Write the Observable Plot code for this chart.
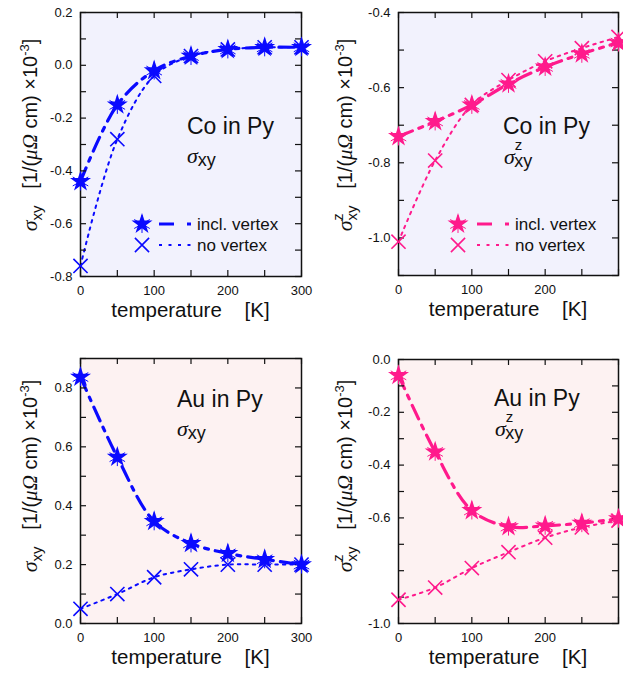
<!DOCTYPE html>
<html><head><meta charset="utf-8">
<script src="https://cdn.jsdelivr.net/npm/d3@7"></script>
<script src="https://cdn.jsdelivr.net/npm/@observablehq/plot@0.6"></script>
<style>
body{margin:0;background:#fff;}
#wrap{position:relative;width:623px;height:673px;overflow:hidden;background:#fff;}
#wrap svg{position:absolute;overflow:visible;}
</style>
</head><body><div id="wrap"></div>
<script>
// ---- data ----
const temps = [0, 50, 100, 150, 200, 250, 300];
const coXyIncl = [-0.44, -0.15, -0.02, 0.035, 0.06, 0.068, 0.068];
const coXyNo   = [-0.76, -0.28, -0.04, 0.035, 0.06, 0.068, 0.068];
const coZIncl  = [-0.73, -0.69, -0.646, -0.59, -0.545, -0.51, -0.48];
const coZNo    = [-1.01, -0.794, -0.646, -0.58, -0.53, -0.495, -0.465];
const auXyIncl = [0.837, 0.565, 0.347, 0.272, 0.238, 0.218, 0.2];
const auXyNo   = [0.05, 0.10, 0.157, 0.184, 0.2, 0.2, 0.2];
const auZIncl  = [-0.06, -0.35, -0.572, -0.633, -0.63, -0.62, -0.603];
const auZNo    = [-0.91, -0.864, -0.79, -0.73, -0.675, -0.636, -0.61];
const xTickLabels = [0, 100, 200, 300];
const xTickLabelsR = [0, 100, 200];
const yLabels1 = [-0.8, -0.6, -0.4, -0.2, 0, 0.2];
const yLabels2 = [-1.0, -0.8, -0.6, -0.4];
const yLabels3 = [0, 0.2, 0.4, 0.6, 0.8];
const yLabels4 = [-1.0, -0.6, -0.4, -0.2, 0];
const legendLabels = ["incl. vertex", "no vertex"];

const SANS = "'Liberation Sans', Arial, Helvetica, sans-serif";
const SERIF = "'Liberation Serif', 'Times New Roman', serif";
const BLUE = "#0a0aff";
const PINK = "#ff1a8c";
const BG_TOP = "#f2f2fd";
const BG_BOT = "#fdf2f2";
const INCL_DASH = "15,7,4,7";
const NO_DASH = "2.5,5";
const R_STAR = 6.6, R_TIMES = 6.5, R_AST = 8.5;

function rich(parent, x, y, segs, opts = {}) {
  const t = parent.append("text").attr("x", x).attr("y", y).attr("fill", "#111")
    .attr("font-family", SANS).attr("text-anchor", opts.anchor || "start");
  if (opts.rotate) t.attr("transform", `rotate(-90 ${x} ${y})`);
  for (const s of segs) {
    const ts = t.append("tspan").text(s.t).attr("font-size", s.size);
    if (s.serif) ts.attr("font-family", SERIF);
    if (s.it) ts.attr("font-style", "italic");
    if (s.dy) ts.attr("dy", s.dy);
    if (s.dx) ts.attr("dx", s.dx);
  }
  return t;
}

function panel(c) {
  const iw = c.width - c.ml - c.mr, ih = c.height - c.mt - c.mb;
  const yt = d3.range(Math.round(c.ydom[0] * 10), Math.round(c.ydom[1] * 10) + 1).map(d => d / 10);
  const xt = d3.range(0, 301, 50);
  const tl = 6;
  const svg = Plot.plot({
    width: c.width, height: c.height,
    marginTop: c.mt, marginRight: c.mr, marginBottom: c.mb, marginLeft: c.ml,
    x: {domain: [0, 300], axis: null},
    y: {domain: c.ydom, axis: null},
    style: {fontFamily: SANS, fontSize: "13px", color: "#111", background: "transparent", overflow: "visible"},
    marks: [
      Plot.frame({fill: c.bg, stroke: null}),
      Plot.line(temps, {x: temps, y: c.no, curve: "catmull-rom", stroke: c.color, strokeWidth: 2, strokeDasharray: NO_DASH}),
      Plot.line(temps, {x: temps, y: c.incl, curve: "catmull-rom", stroke: c.color, strokeWidth: 3.2, strokeDasharray: INCL_DASH}),
      Plot.tickX(xt, {insetTop: ih - tl, stroke: "#111", strokeWidth: 1.2}),
      Plot.tickX(xt, {insetBottom: ih - tl, stroke: "#111", strokeWidth: 1.2}),
      Plot.tickY(yt, {insetRight: iw - tl, stroke: "#111", strokeWidth: 1.2}),
      Plot.tickY(yt, {insetLeft: iw - tl, stroke: "#111", strokeWidth: 1.2}),
      Plot.frame({stroke: "#111", strokeWidth: 1.5}),
      Plot.dot(temps, {x: temps, y: c.no, symbol: "times", r: R_TIMES, stroke: c.color, strokeWidth: 1.6}),
      Plot.dot(temps, {x: temps, y: c.incl, symbol: "star", r: R_STAR, fill: c.color, stroke: null}),
      Plot.dot(temps, {x: temps, y: c.incl, symbol: "asterisk", r: R_AST, stroke: c.color, strokeWidth: 1}),
      Plot.axisX({ticks: c.xlabels, tickSize: 0, tickPadding: 9, fontSize: 13, label: null, fill: "#111", tickFormat: d => String(d)}),
      Plot.axisY({ticks: c.ylabels, tickSize: 0, tickPadding: 8, fontSize: 13, label: null, fill: "#111", tickFormat: d => d.toFixed(1)})
    ]
  });
  svg.style.left = c.left + "px";
  svg.style.top = c.top + "px";
  const s = d3.select(svg);
  const fb = c.height - c.mb; // frame bottom
  // x axis label
  s.append("text").attr("x", c.ml + iw / 2).attr("y", fb + 41).attr("text-anchor", "middle")
    .attr("font-family", SANS).attr("font-size", 20.5).attr("fill", "#111")
    .text("temperature\u00a0\u00a0\u00a0\u00a0[K]");
  // y axis label
  const head = c.z
    ? [{t: "\u03c3", serif: true, it: true, size: 22},
       {t: "z", size: 14, dy: -9},
       {t: "xy", size: 15, dx: -7, dy: 14}]
    : [{t: "\u03c3", serif: true, it: true, size: 22},
       {t: "xy", size: 15, dy: 5}];
  rich(s, c.ylx, c.yly, [
    ...head,
    {t: "\u00a0\u00a0\u00a0[1/(", size: 20, dy: -5},
    {t: "\u03bc\u03a9", serif: true, it: true, size: 21},
    {t: "\u00a0cm)\u00a0\u00d710", size: 20},
    {t: "-3", size: 13, dy: -8},
    {t: "]", size: 20, dy: 8}
  ], {rotate: true, anchor: "middle"});
  // annotation
  rich(s, c.tx, c.ty, [{t: c.title, size: 23}]);
  if (c.z) {
    rich(s, c.tx + 1, c.ty + 30, [
      {t: "\u03c3", serif: true, it: true, size: 22},
      {t: "z", size: 15, dy: -14},
      {t: "xy", size: 18, dx: -8, dy: 17}
    ]);
  } else {
    rich(s, c.tx, c.ty + 29, [
      {t: "\u03c3", serif: true, it: true, size: 22},
      {t: "xy", size: 18, dy: 3}
    ]);
  }
  // legend
  if (c.legend) {
    const L = c.legend;
    const starPath = d3.symbol(d3.symbolStar, Math.PI * R_STAR * R_STAR)();
    const astPath = d3.symbol(d3.symbolAsterisk, Math.PI * R_AST * R_AST)();
    const timesPath = d3.symbol(d3.symbolTimes, Math.PI * R_TIMES * R_TIMES)();
    s.append("path").attr("d", starPath).attr("transform", `translate(${L.sx},${L.y1})`).attr("fill", c.color);
    s.append("path").attr("d", astPath).attr("transform", `translate(${L.sx},${L.y1})`).attr("fill", "none").attr("stroke", c.color).attr("stroke-width", 1);
    s.append("path").attr("d", timesPath).attr("transform", `translate(${L.sx},${L.y2})`).attr("fill", "none").attr("stroke", c.color).attr("stroke-width", 1.6);
    s.append("line").attr("x1", L.lx1).attr("x2", L.lx2).attr("y1", L.y1).attr("y2", L.y1)
      .attr("stroke", c.color).attr("stroke-width", 3.2).attr("stroke-dasharray", "15,13,4");
    s.append("line").attr("x1", L.lx1).attr("x2", L.lx2).attr("y1", L.y2).attr("y2", L.y2)
      .attr("stroke", c.color).attr("stroke-width", 2).attr("stroke-dasharray", "3,6.5");
    s.append("text").attr("x", L.tx).attr("y", L.y1 + 6).attr("text-anchor", "start").attr("font-family", SANS).attr("font-size", 17).attr("fill", "#111").text(legendLabels[0]);
    s.append("text").attr("x", L.tx).attr("y", L.y2 + 6).attr("text-anchor", "start").attr("font-family", SANS).attr("font-size", 17).attr("fill", "#111").text(legendLabels[1]);
  }
  document.getElementById("wrap").appendChild(svg);
}

panel({left: 0, top: 0, width: 311, height: 336, mt: 12, mr: 10, mb: 60, ml: 80,
  ydom: [-0.8, 0.2], ylabels: yLabels1, xlabels: xTickLabels, bg: BG_TOP, color: BLUE,
  incl: coXyIncl, no: coXyNo, title: "Co in Py", z: false, tx: 187, ty: 134, ylx: 37, yly: 135,
  legend: {sx: 142, y1: 224, y2: 245, lx1: 159, lx2: 191, tx: 197}});
panel({left: 311, top: 0, width: 312, height: 336, mt: 12, mr: 5, mb: 61, ml: 87,
  ydom: [-1.1, -0.4], ylabels: yLabels2, xlabels: xTickLabelsR, bg: BG_TOP, color: PINK,
  incl: coZIncl, no: coZNo, title: "Co in Py", z: true, tx: 192, ty: 134, ylx: 41, yly: 135,
  legend: {sx: 147, y1: 224, y2: 245, lx1: 166, lx2: 198, tx: 204}});
panel({left: 0, top: 336, width: 311, height: 337, mt: 22, mr: 10, mb: 50, ml: 80,
  ydom: [0, 0.9], ylabels: yLabels3, xlabels: xTickLabels, bg: BG_BOT, color: BLUE,
  incl: auXyIncl, no: auXyNo, title: "Au in Py", z: false, tx: 177, ty: 71, ylx: 37, yly: 140});
panel({left: 311, top: 336, width: 312, height: 337, mt: 23, mr: 5, mb: 50, ml: 87,
  ydom: [-1.0, 0], ylabels: yLabels4, xlabels: xTickLabelsR, bg: BG_BOT, color: PINK,
  incl: auZIncl, no: auZNo, title: "Au in Py", z: true, tx: 183, ty: 70, ylx: 41, yly: 140});
</script>
</body></html>
